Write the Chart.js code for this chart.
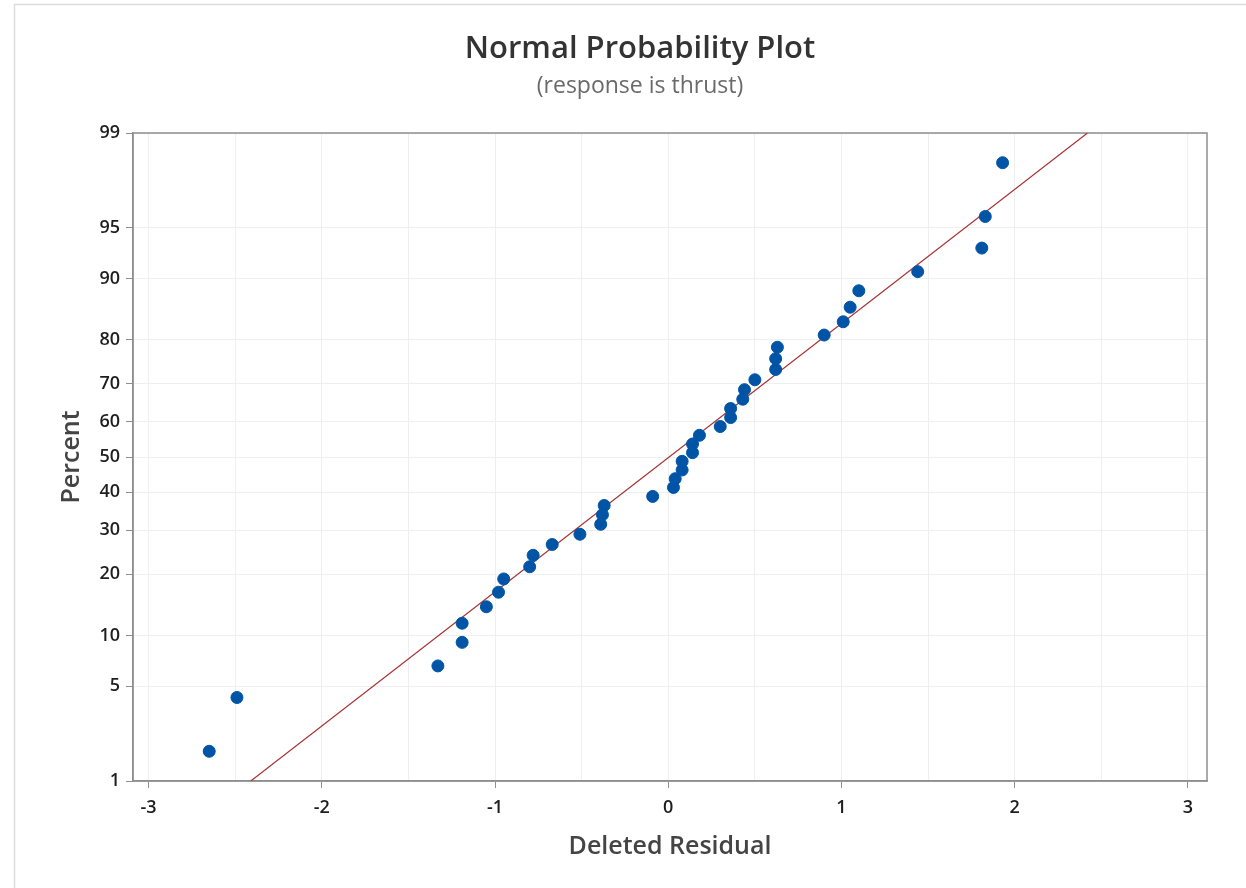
<!DOCTYPE html>
<html>
<head>
<meta charset="utf-8">
<title>Normal Probability Plot</title>
<script src="https://cdn.jsdelivr.net/npm/chart.js@4.4.1/dist/chart.umd.min.js"></script>
<style>
  html, body { margin: 0; padding: 0; background: #fff; }
  #wrap { width: 1246px; height: 888px; position: relative; }
</style>
</head>
<body>
<div id="wrap"><canvas id="probPlot"></canvas></div>
<script>
// deleted residuals (sorted) and their plotting positions in percent
var residuals = [-2.65, -2.49, -1.33, -1.19, -1.19, -1.05, -0.98, -0.95, -0.80, -0.78,
                 -0.67, -0.51, -0.39, -0.38, -0.37, -0.09, 0.03, 0.04, 0.08, 0.08,
                 0.14, 0.14, 0.18, 0.30, 0.36, 0.36, 0.43, 0.44, 0.50, 0.62,
                 0.62, 0.63, 0.90, 1.01, 1.05, 1.10, 1.44, 1.81, 1.83, 1.93];
var percents = [1.73, 4.21, 6.68, 9.16, 11.63, 14.11, 16.58, 19.06, 21.53, 24.01,
                26.49, 28.96, 31.44, 33.91, 36.39, 38.86, 41.34, 43.81, 46.29, 48.76,
                51.24, 53.71, 56.19, 58.66, 61.14, 63.61, 66.09, 68.56, 71.04, 73.51,
                75.99, 78.47, 80.94, 83.42, 85.89, 88.37, 90.84, 93.32, 95.79, 98.27];
// fitted normal line, from one edge of the plot to the other
var fitX = [-2.41, 2.42];
var fitPct = [1, 99];
var percentTicks = [1, 5, 10, 20, 30, 40, 50, 60, 70, 80, 90, 95, 99];

var FONT = "'Open Sans', 'Noto Sans', sans-serif";
Chart.defaults.font.family = FONT;

// inverse normal cdf (Acklam's approximation)
function probit(p) {
  var a = [-3.969683028665376e+01, 2.209460984245205e+02, -2.759285104469687e+02, 1.383577518672690e+02, -3.066479806614716e+01, 2.506628277459239e+00];
  var b = [-5.447609879822406e+01, 1.615858368580409e+02, -1.556989798598866e+02, 6.680131188771972e+01, -1.328068155288572e+01];
  var c = [-7.784894002430293e-03, -3.223964580411365e-01, -2.400758277161838e+00, -2.549732539343734e+00, 4.374664141464968e+00, 2.938163982698783e+00];
  var d = [7.784695709041462e-03, 3.224671290700398e-01, 2.445134137142996e+00, 3.754408661907416e+00];
  var lo = 0.02425, q, r;
  if (p < lo) {
    q = Math.sqrt(-2 * Math.log(p));
    return (((((c[0]*q+c[1])*q+c[2])*q+c[3])*q+c[4])*q+c[5]) / ((((d[0]*q+d[1])*q+d[2])*q+d[3])*q+1);
  }
  if (p > 1 - lo) {
    q = Math.sqrt(-2 * Math.log(1 - p));
    return -(((((c[0]*q+c[1])*q+c[2])*q+c[3])*q+c[4])*q+c[5]) / ((((d[0]*q+d[1])*q+d[2])*q+d[3])*q+1);
  }
  q = p - 0.5; r = q * q;
  return (((((a[0]*r+a[1])*r+a[2])*r+a[3])*r+a[4])*r+a[5])*q / (((((b[0]*r+b[1])*r+b[2])*r+b[3])*r+b[4])*r+1);
}

function normCdf(z) {
  var t = 1 / (1 + 0.2316419 * Math.abs(z));
  var y = 0.3989423 * Math.exp(-z * z / 2) *
    t * (0.3193815 + t * (-0.3565638 + t * (1.781478 + t * (-1.821256 + t * 1.330274))));
  return z > 0 ? 1 - y : y;
}

// percent axis spaced by normal quantiles
class ProbitScale extends Chart.Scale {
  determineDataLimits() {
    this.min = this.options.min;
    this.max = this.options.max;
  }
  buildTicks() {
    return percentTicks.map(function (v) { return { value: v }; });
  }
  configure() {
    super.configure();
    this._zMin = probit(this.min / 100);
    this._zMax = probit(this.max / 100);
  }
  getPixelForValue(v) {
    return this.getPixelForDecimal((probit(v / 100) - this._zMin) / (this._zMax - this._zMin));
  }
  getPixelForTick(i) {
    return this.getPixelForValue(this.ticks[i].value);
  }
  getValueForPixel(px) {
    var dec = this.getDecimalForPixel(px);
    return 100 * normCdf(this._zMin + dec * (this._zMax - this._zMin));
  }
}
ProbitScale.id = 'probit';
ProbitScale.defaults = {};
Chart.register(ProbitScale);

// titles, plot frame and the window edge
var decor = {
  id: 'decor',
  beforeDraw: function (chart) {
    var ctx = chart.ctx;
    ctx.save();
    ctx.strokeStyle = '#dcdcdc';
    ctx.lineWidth = 1.5;
    ctx.beginPath();
    ctx.moveTo(14.5, 888);
    ctx.lineTo(14.5, 4.5);
    ctx.lineTo(1246, 4.5);
    ctx.stroke();
    ctx.textAlign = 'center';
    ctx.textBaseline = 'middle';
    ctx.fillStyle = '#333';
    ctx.font = '600 31px ' + FONT;
    ctx.fillText('Normal Probability Plot', 640, 49);
    ctx.fillStyle = '#6a6a6a';
    ctx.font = '23px ' + FONT;
    ctx.fillText('(response is thrust)', 640, 86);
    ctx.restore();
  },
  beforeDatasetsDraw: function (chart) {
    var a = chart.chartArea, ctx = chart.ctx;
    ctx.save();
    ctx.strokeStyle = '#8f8f8f';
    ctx.lineWidth = 1.5;
    ctx.strokeRect(a.left, a.top, a.right - a.left, a.bottom - a.top);
    ctx.restore();
  }
};

new Chart('probPlot', {
  type: 'scatter',
  data: {
    datasets: [{
      label: 'Residuals',
      data: residuals.map(function (r, i) { return { x: r, y: percents[i] }; }),
      pointRadius: 6,
      pointHoverRadius: 7,
      backgroundColor: '#0054a6',
      borderColor: '#0054a6',
      borderWidth: 1,
      order: 0
    }, {
      label: 'Fit',
      data: fitX.map(function (x, i) { return { x: x, y: fitPct[i] }; }),
      showLine: true,
      borderColor: '#a83232',
      borderWidth: 1.2,
      pointRadius: 0,
      order: 1
    }]
  },
  options: {
    responsive: true,
    maintainAspectRatio: false,
    animation: false,
    layout: { padding: { left: 15, right: 39, top: 133, bottom: 0 } },
    plugins: {
      legend: { display: false },
      title: { display: false }
    },
    scales: {
      x: {
        type: 'linear',
        min: -3.09,
        max: 3.11,
        afterFit: function (s) { s.height = 107; },
        ticks: {
          stepSize: 0.5,
          includeBounds: false,
          padding: 9,
          color: '#1e1e1e',
          font: { size: 18, weight: '600' },
          maxRotation: 0,
          callback: function (v) { return Number.isInteger(v) ? String(v) : ''; }
        },
        grid: {
          color: '#efefef',
          tickLength: 7,
          tickColor: function (c) { return c.tick && Number.isInteger(c.tick.value) ? '#8f8f8f' : 'rgba(0,0,0,0)'; }
        },
        border: { color: '#8f8f8f', width: 1.5 },
        title: {
          display: true,
          text: 'Deleted Residual',
          color: '#444',
          font: { size: 25, weight: '600' },
          padding: { top: 0, bottom: 26 }
        }
      },
      y: {
        type: 'probit',
        position: 'left',
        min: 1,
        max: 99,
        afterFit: function (s) { s.width = 118; },
        ticks: {
          autoSkip: false,
          padding: 6,
          color: '#1e1e1e',
          font: { size: 18, weight: '600' }
        },
        grid: { color: '#efefef', tickLength: 7, tickColor: '#8f8f8f' },
        border: { color: '#8f8f8f', width: 1.5 },
        title: {
          display: true,
          text: 'Percent',
          color: '#444',
          font: { size: 25, weight: '600' },
          padding: { top: 42, bottom: 0 }
        }
      }
    }
  },
  plugins: [decor]
});
</script>
</body>
</html>
